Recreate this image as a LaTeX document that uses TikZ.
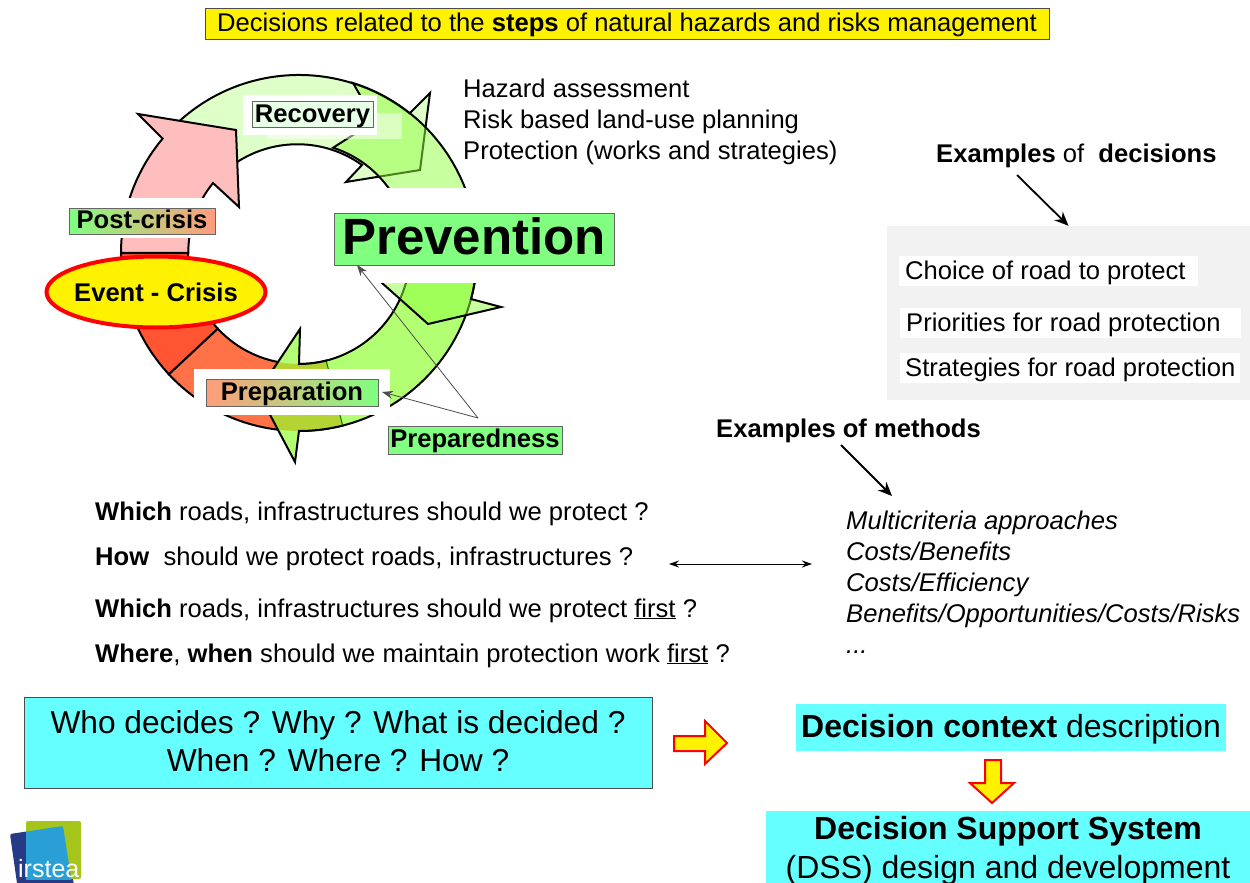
\documentclass[tikz,border=0pt]{standalone}
\usepackage{fontspec}
\setmainfont{Liberation Sans}
\usetikzlibrary{shapes.geometric,arrows.meta}
\newcommand{\sz}[1]{\fontsize{#1}{#1}\selectfont}
\definecolor{recoverygreen}{HTML}{DFFFC8}
\definecolor{preventgreen}{HTML}{91FF40}
\definecolor{prepgreen}{HTML}{B3FF73}
\definecolor{labelgreen}{HTML}{80FF80}
\definecolor{labelred}{HTML}{FF9C7C}
\definecolor{aqua}{HTML}{66FFFF}
\definecolor{crisisred}{HTML}{FF5533}
\definecolor{prepred}{HTML}{FF7248}
\definecolor{pink}{HTML}{FFBEBE}
\definecolor{olive}{HTML}{B4D434}
\definecolor{paleback}{HTML}{E8FFE8}
\definecolor{navy}{HTML}{263A86}
\definecolor{logogreen}{HTML}{A5C51A}
\definecolor{logoblue}{HTML}{2A9FD6}
\def\prepareshape{(476.3,268.5) arc[start angle=5,end angle=90,radius=178] -- (295,462) -- (258,392) -- (300,329) -- (299,364) arc[start angle=90,end angle=5,radius=111] -- cycle}
\def\preparationshape{(342.7,425.5) arc[start angle=75.8,end angle=137,radius=178] -- (217.8,328.7) arc[start angle=137,end angle=75.8,radius=111] -- cycle}
\begin{document}
\begin{tikzpicture}[x=1pt,y=-1pt,
ring/.style={draw=black,line width=2pt,line join=miter},
stagebox/.style={draw=black!60,line width=1pt,inner sep=0pt,text height=20.5pt,text depth=5pt,font=\sz{25.6}\bfseries},
txt/.style={anchor=base west,inner sep=0pt,font=\sz{25.6}},
bigtxt/.style={anchor=base,inner sep=0pt,font=\sz{32}},
whitebox/.style={fill=white,draw=none},
chunky/.style={fill=yellow,draw=red,line width=2pt,line join=miter},
aquabox/.style={fill=aqua,inner sep=0pt,align=center},
bigarrow/.style={-{Stealth[length=14pt,width=12pt]},line width=1.8pt},
thinarrow/.style={-{Stealth[length=11pt,width=8pt]},black!70,line width=0.8pt},
linkarrow/.style={{Stealth[length=10pt,width=7pt]}-{Stealth[length=10pt,width=7pt]},line width=1pt}]
\useasboundingbox (0,0) rectangle (1250,883);
% title
\node[draw=black!70,fill=yellow,minimum width=844pt,minimum height=31pt,inner sep=0pt,text height=22pt,text depth=5pt,font=\sz{25.6}] (title) at (627,23.5)
  {Decisions related to the \textbf{steps} of natural hazards and risks management};
% ring, going round from the crisis
\draw[ring,fill=recoverygreen] (173.1,127.1) arc[start angle=225,end angle=308.4,radius=178] -- (430,93) -- (420,170) -- (346,182) -- (362,165) arc[start angle=305.6,end angle=225,radius=111] -- cycle;
\draw[ring,fill=crisisred] (169,374.4) arc[start angle=137,end angle=180,radius=178] -- (188,253) arc[start angle=180,end angle=137,radius=111] -- cycle;
\draw[ring,fill=prepred] \preparationshape;
\draw[ring,fill=pink] (121,253) arc[start angle=180,end angle=220,radius=178] -- (138,114) -- (236,130) -- (239,207) -- (213,183) arc[start angle=219,end angle=180,radius=111] -- cycle;
\fill[prepgreen] \prepareshape;
\begin{scope}
\clip \prepareshape;
\fill[olive] \preparationshape;
\draw[green!45!black,line width=1pt] (342.7,425.5) -- (326.2,360.6);
\end{scope}
\draw[ring] \prepareshape;
\draw[ring,fill=preventgreen,fill opacity=0.5] (353,83) arc[start angle=287.6,end angle=375.1,radius=178] -- (501,307) -- (428,324) -- (354,258) -- (406,282) arc[start angle=15,end angle=-72,radius=111] -- (375,121) -- cycle;
% white patches behind the labels
\fill[whitebox] (243,95) rectangle (377,135);
\fill[white,fill opacity=0.5] (267,113) rectangle (402,139);
\fill[whitebox] (60,198) rectangle (220,238);
\fill[whitebox] (334,188) rectangle (614,283);
\fill[whitebox] (194,369) rectangle (390,415);
% stage labels
\node[stagebox,fill=paleback,minimum width=121pt,minimum height=25pt] (recovery) at (312.5,114.5) {Recovery};
\node[stagebox,left color=labelgreen,right color=labelred,minimum width=146pt,minimum height=26pt] (postcrisis) at (142,221) {Post-crisis};
\node[ellipse,draw=red,line width=4pt,fill=yellow,minimum width=219pt,minimum height=71pt,inner xsep=-9pt,inner ysep=0pt,font=\sz{25.6}\bfseries] (crisis) at (156,292) {Event - Crisis};
\node[stagebox,left color=labelred,right color=labelgreen,minimum width=172pt,minimum height=27pt] (preparation) at (292,393) {Preparation};
\node[stagebox,fill=labelgreen,minimum width=280pt,minimum height=52pt,text height=39pt,text depth=9pt,font=\sz{51}\bfseries] (prevention) at (474,239) {Prevention};
\node[stagebox,fill=labelgreen,minimum width=174pt,minimum height=28pt] (preparedness) at (475,440) {Preparedness};
% thin arrows from preparedness
\coordinate (fork) at (478,418);
\coordinate (toprev) at (357,265);
\coordinate (toprep) at (382,392);
\draw[thinarrow] (fork) -- (toprev);
\draw[thinarrow] (fork) -- (toprep);
% prevention measures
\foreach \lab [count=\n] in {Hazard assessment,Risk based land-use planning,{Protection (works and strategies)}}{
\node[txt] (measure\n) at (463,66+31*\n) {\lab};
}
% examples of decisions
\node[txt] (decisions) at (936,162) {\textbf{Examples} of~ \textbf{decisions}};
\node[fill=black!5,minimum width=363pt,minimum height=174pt,inner sep=0pt] (greybox) at (1068.5,313) {};
\coordinate (decfrom) at (1017,175);
\draw[bigarrow] (decfrom) -- (greybox.north);
\node[whitebox,minimum width=299pt,minimum height=30pt,inner sep=0pt] (choiceback) at (1048.5,271) {};
\node[whitebox,minimum width=341pt,minimum height=30pt,inner sep=0pt] (prioback) at (1070.5,323) {};
\node[whitebox,minimum width=340pt,minimum height=30pt,inner sep=0pt] (stratback) at (1070,368) {};
\node[txt] (choice) at (905,279) {Choice of road to protect};
\node[txt] (priorities) at (906,331) {Priorities for road protection};
\node[txt] (strategies) at (905,376) {Strategies for road protection};
% examples of methods
\node[txt] (methods) at (716,437) {\textbf{Examples of methods}};
\coordinate (metfrom) at (841,445);
\coordinate (metto) at (892,496);
\draw[bigarrow] (metfrom) -- (metto);
\foreach \lab [count=\n] in {Multicriteria approaches,Costs/Benefits,Costs/Efficiency,Benefits/Opportunities/Costs/Risks}{
\node[txt,font=\sz{25.6}\itshape] (method\n) at (846,498+31*\n) {\lab};
}
\node[txt,font=\sz{25.6}\itshape] (method5) at (846,653) {...};
\coordinate (linkl) at (669,564);
\coordinate (linkr) at (812,564);
\draw[linkarrow] (linkl) -- (linkr);
% questions
\node[txt] (q1) at (95,520) {\textbf{Which} roads, infrastructures should we protect ?};
\node[txt] (q2) at (95,565) {\textbf{How}~ should we protect roads, infrastructures ?};
\node[txt] (q3) at (95,617) {\textbf{Which} roads, infrastructures should we protect \underline{first} ?};
\node[txt] (q4) at (95,662) {\textbf{Where}, \textbf{when} should we maintain protection work \underline{first} ?};
% bottom boxes
\node[aquabox,draw=black!70,minimum width=628pt,minimum height=91pt,text depth=3pt,font=\fontsize{31.7}{38.5}\selectfont] (who) at (338,742.5) {Who decides ? Why ? What is decided ?\\When ? Where ? How ?};
\node[aquabox,minimum width=430pt,minimum height=47pt,text height=25.5pt,text depth=6.5pt,font=\sz{32}] (context) at (1011,727.5) {\textbf{Decision context} description};
\node[aquabox,minimum width=484pt,minimum height=72pt] (dssback) at (1008,847) {};
\node[bigtxt] (dss) at (1008,839) {\textbf{Decision Support System}};
\node[bigtxt] (dssmore) at (1008,878) {(DSS) design and development};
\draw[chunky] (674,736) -- (705,736) -- (705,721) -- (727,743) -- (705,764) -- (705,751) -- (674,751) -- cycle;
\draw[chunky] (985,760) -- (1001,760) -- (1001,783) -- (1014,783) -- (992,803) -- (970,783) -- (985,783) -- cycle;
% logo
\fill[navy,rounded corners=2pt] (10,834) -- (63,826) -- (75,890) -- (18,890) -- cycle;
\fill[logogreen,rounded corners=2pt] (26,821) rectangle (81,879);
\begin{scope}
\clip (26,821) rectangle (81,879);
\fill[logoblue,rounded corners=2pt] (10,834) -- (63,826) -- (73,890) -- (18,890) -- cycle;
\end{scope}
\node[anchor=base west,inner sep=0pt,text=white,font=\sz{25}] (irstea) at (18,877) {irstea};
\end{tikzpicture}
\end{document}
